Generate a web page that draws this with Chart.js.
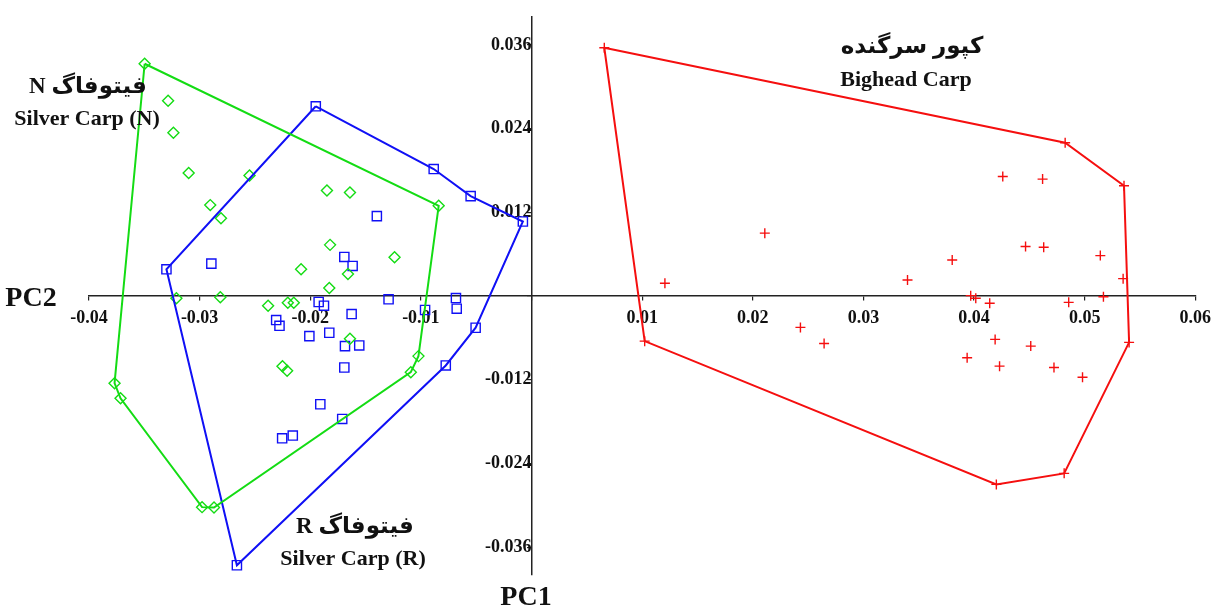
<!DOCTYPE html>
<html>
<head>
<meta charset="utf-8">
<script src="https://cdn.jsdelivr.net/npm/chart.js@4.4.0/dist/chart.umd.min.js"></script>
<style>
  body { margin: 0; background: #fff; }
  #wrap { width: 1219px; height: 609px; position: relative; }
</style>
</head>
<body>
<div id="wrap"><canvas id="pcaChart"></canvas></div>
<script>
// TICK VALUES
const xTicks = [-0.04, -0.03, -0.02, -0.01, 0, 0.01, 0.02, 0.03, 0.04, 0.05, 0.06]
const yTicks = [-0.036, -0.024, -0.012, 0, 0.012, 0.024, 0.036]

// SILVER CARP (N) - green diamonds
const silverNX = [-0.03497, -0.03285, -0.03237, -0.03099, -0.02549, -0.02904, -0.02807, -0.01849, -0.01641, -0.00839,
  -0.01821, -0.01238, -0.02083, -0.01659, -0.01828, -0.0321, -0.02813, -0.02381, -0.02203, -0.02149,
  -0.01641, -0.02251, -0.02209, -0.01022, -0.01091, -0.02978, -0.0287, -0.03715, -0.03769]
const silverNY = [0.0333, 0.0280, 0.0234, 0.01763, 0.01729, 0.01303, 0.01116, 0.01513, 0.01485, 0.01293,
  0.00733, 0.00556, 0.00383, 0.00316, 0.00115, -0.00033, -0.00019, -0.00139, -0.00096, -0.00096,
  -0.00613, -0.01006, -0.01073, -0.00862, -0.01092, -0.03027, -0.03032, -0.01466, -0.0125]
const silverNHull = [0, 9, 23, 24, 26, 25, 27, 28, 0]

// SILVER CARP (R) - blue squares
const silverRX = [-0.0195, -0.00884, -0.0055, -0.00078, -0.01398, -0.01692, -0.01617, -0.033, -0.02894, -0.01924,
  -0.01876, -0.02308, -0.02278, -0.01626, -0.02008, -0.01828, -0.01686, -0.01557, -0.01692, -0.01292,
  -0.00962, -0.00683, -0.00676, -0.00775, -0.01909, -0.01711, -0.02254, -0.02158, -0.02663, -0.00505]
const silverRY = [0.0272, 0.0182, 0.01432, 0.01068, 0.01145, 0.0056, 0.00431, 0.00383, 0.00464, -0.00086,
  -0.00139, -0.00345, -0.00427, -0.00259, -0.00575, -0.00527, -0.00718, -0.00709, -0.01025, -0.00047,
  -0.00201, -0.00029, -0.00182, -0.00996, -0.01552, -0.01763, -0.0204, -0.02001, -0.0386, -0.00455]
const silverRHull = [0, 1, 2, 3, 29, 23, 28, 7, 0]

// BIGHEAD CARP - red crosses
const bigheadX = [0.00658, 0.04824, 0.05356, 0.0426, 0.0462, 0.02109, 0.04466, 0.0463, 0.03803, 0.05142,
  0.01206, 0.03399, 0.05348, 0.0397, 0.04016, 0.04142, 0.04856, 0.0517, 0.01023, 0.05402,
  0.02431, 0.02645, 0.04191, 0.04513, 0.03938, 0.04231, 0.04723, 0.04981, 0.04815, 0.04202]
const bigheadY = [0.03559, 0.02198, 0.0158, 0.01714, 0.01676, 0.00901, 0.00709, 0.007, 0.00517, 0.00579,
  0.00182, 0.0023, 0.00249, 0.00005, -0.00033, -0.00105, -0.00091, -0.0001, -0.00647, -0.00665,
  -0.0045, -0.0068, -0.00622, -0.00718, -0.00886, -0.01006, -0.01025, -0.01164, -0.02543, -0.02701]
const bigheadHull = [0, 1, 2, 19, 28, 29, 18, 0]

const GREEN = '#14dc14'
const BLUE = '#1010f5'
const RED = '#f50f0f'

function toPoints(xs, ys) {
  return xs.map((x, i) => ({ x: x, y: ys[i] }))
}
function hullPoints(xs, ys, idx) {
  return idx.map(i => ({ x: xs[i], y: ys[i] }))
}

function markerSet(label, xs, ys, style, color, radius) {
  return {
    label: label,
    data: toPoints(xs, ys),
    pointStyle: style,
    pointRadius: radius,
    pointBorderColor: color,
    pointBackgroundColor: 'rgba(0,0,0,0)',
    pointBorderWidth: 1.4,
    showLine: false
  }
}
function hullSet(label, xs, ys, idx, color) {
  return {
    label: label,
    data: hullPoints(xs, ys, idx),
    showLine: true,
    borderColor: color,
    borderWidth: 2,
    pointRadius: 0,
    tension: 0
  }
}

// GROUP NAMES AND AXIS TITLES
const textPlugin = {
  id: 'groupText',
  afterDraw(chart) {
    const ctx = chart.ctx
    ctx.save()
    ctx.fillStyle = '#111'
    ctx.textAlign = 'center'
    ctx.textBaseline = 'middle'
    const fa = 'bold 23px "Liberation Serif", "DejaVu Sans", serif'
    const en = 'bold 22px "Liberation Serif", serif'
    function rtl(text, x, y) {
      ctx.font = fa
      ctx.direction = 'rtl'
      ctx.fillText(text, x, y)
      ctx.direction = 'ltr'
    }
    function ltr(text, x, y) {
      ctx.font = en
      ctx.fillText(text, x, y)
    }
    rtl('فیتوفاگ N', 88, 87)
    ltr('Silver Carp (N)', 87, 119)
    rtl('کپور سرگنده', 912, 47)
    ltr('Bighead Carp', 906, 80)
    rtl('فیتوفاگ R', 355, 527)
    ltr('Silver Carp (R)', 353, 559)
    ctx.font = 'bold 28px "Liberation Serif", serif'
    ctx.fillText('PC2', 31, 299)
    ctx.fillText('PC1', 526, 598)
    ctx.restore()
  }
}

const tickFont = { family: '"Liberation Serif", serif', size: 18, weight: 'bold' }

const ctx = document.getElementById('pcaChart').getContext('2d')
const pcaChart = new Chart(ctx, {
  type: 'scatter',
  data: {
    datasets: [
      hullSet('Silver Carp (N) hull', silverNX, silverNY, silverNHull, GREEN),
      hullSet('Silver Carp (R) hull', silverRX, silverRY, silverRHull, BLUE),
      hullSet('Bighead Carp hull', bigheadX, bigheadY, bigheadHull, RED),
      markerSet('Silver Carp (N)', silverNX, silverNY, 'rectRot', GREEN, 5.5),
      markerSet('Silver Carp (R)', silverRX, silverRY, 'rect', BLUE, 6.5),
      markerSet('Bighead Carp', bigheadX, bigheadY, 'cross', RED, 5)
    ]
  },
  options: {
    responsive: true,
    maintainAspectRatio: false,
    animation: false,
    layout: { padding: { left: 89, right: 21, top: 17, bottom: 34 } },
    plugins: {
      legend: { display: false },
      tooltip: { enabled: false }
    },
    scales: {
      x: {
        type: 'linear',
        min: -0.04,
        max: 0.06,
        position: { y: 0 },
        afterBuildTicks: (scale) => { scale.ticks = xTicks.map(v => ({ value: v })) },
        afterFit: (scale) => { scale.height = 0 },
        grid: { drawOnChartArea: false, tickLength: 4, color: '#222', lineWidth: 1.2 },
        border: { color: '#222', width: 1.5 },
        ticks: {
          autoSkip: false,
          maxRotation: 0,
          padding: 8,
          color: '#111',
          font: tickFont,
          callback: (v) => v === 0 ? '' : String(Number(v.toFixed(2)))
        }
      },
      y: {
        type: 'linear',
        min: -0.04,
        max: 0.04,
        position: { x: 0 },
        afterBuildTicks: (scale) => { scale.ticks = yTicks.map(v => ({ value: v })) },
        afterFit: (scale) => { scale.width = 0 },
        grid: { drawOnChartArea: false, tickLength: 4, color: '#222', lineWidth: 1.2 },
        border: { color: '#222', width: 1.5 },
        ticks: {
          autoSkip: false,
          padding: 0,
          color: '#111',
          font: tickFont,
          callback: (v) => v === 0 ? '' : v.toFixed(3)
        }
      }
    }
  },
  plugins: [textPlugin]
})
</script>
</body>
</html>
